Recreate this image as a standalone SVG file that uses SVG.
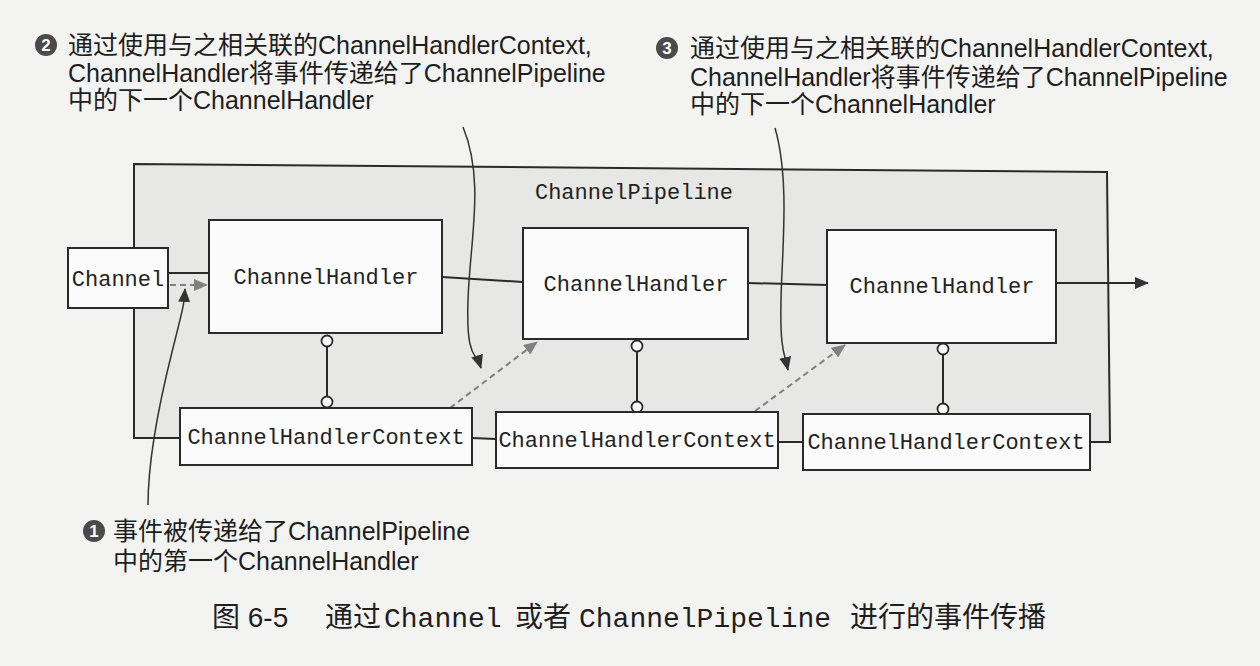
<svg xmlns="http://www.w3.org/2000/svg" width="1260" height="666" viewBox="0 0 1260 666">
<style>
.mono{font-family:"Liberation Mono","Noto Sans CJK SC",monospace;font-size:22px;fill:#222}
.ann{font-family:"Liberation Sans","Noto Sans CJK SC",sans-serif;font-size:25px;fill:#1e1e1e}
.cap{font-family:"Liberation Sans","Noto Sans CJK SC",sans-serif;font-size:28px;fill:#1e1e1e}
.capm{font-family:"Liberation Mono",monospace;font-size:28px;fill:#1e1e1e}
.box{fill:#fbfbfb;stroke:#2a2a2a;stroke-width:2}
.ln{fill:none;stroke:#2a2a2a;stroke-width:2}
.thin{fill:none;stroke:#333;stroke-width:1.5}
.dash{fill:none;stroke:#808080;stroke-width:2;stroke-dasharray:6 4}
.num{fill:#4a4a4a}
.numt{font-family:"Liberation Sans",sans-serif;font-size:17px;font-weight:bold;fill:#fff}
.pin{fill:#fbfbfb;stroke:#2a2a2a;stroke-width:1.8}
</style>
<defs>
<marker id="ah" markerUnits="userSpaceOnUse" markerWidth="14" markerHeight="12" refX="13" refY="6" orient="auto"><path d="M0,0 L14,6 L0,12 z" fill="#333"/></marker>
<marker id="ahg" markerUnits="userSpaceOnUse" markerWidth="14" markerHeight="12" refX="13" refY="6" orient="auto"><path d="M0,0 L14,6 L0,12 z" fill="#808080"/></marker>
</defs>
<rect width="1260" height="666" fill="#f3f3f1"/>

<g id="pipeline">
<polygon points="134,164 1107,172 1110,442 134,438" fill="#e7e7e5"/>
<path class="ln" d="M180,438 L134,438 L134,164 L1107,172 L1110,442 L1090,442"/>
<text class="mono" x="634" y="199" text-anchor="middle">ChannelPipeline</text>
</g>

<g id="connectors">
<line class="ln" x1="168" y1="273" x2="209" y2="273"/>
<line class="dash" x1="170" y1="285" x2="207" y2="285" marker-end="url(#ahg)"/>
<line class="ln" x1="442" y1="277" x2="523" y2="282"/>
<line class="ln" x1="748" y1="283" x2="827" y2="285"/>
<line class="ln" x1="1056" y1="283" x2="1148" y2="283" marker-end="url(#ah)"/>
<line class="ln" x1="472" y1="438" x2="496" y2="439"/>
<line class="ln" x1="778" y1="442" x2="803" y2="442"/>
<line class="ln" x1="327" y1="347" x2="327" y2="396"/>
<line class="ln" x1="637" y1="352" x2="637" y2="402"/>
<line class="ln" x1="943" y1="354" x2="943" y2="404"/>
<circle class="pin" cx="327" cy="341" r="5.5"/>
<circle class="pin" cx="327" cy="402" r="5.5"/>
<circle class="pin" cx="637" cy="346" r="5.5"/>
<circle class="pin" cx="637" cy="407" r="5.5"/>
<circle class="pin" cx="943" cy="349" r="5.5"/>
<circle class="pin" cx="943" cy="409" r="5.5"/>
<line class="dash" x1="450" y1="408" x2="537" y2="342" marker-end="url(#ahg)"/>
<line class="dash" x1="755" y1="411" x2="845" y2="345" marker-end="url(#ahg)"/>
<path class="thin" d="M463,127 C485,180 470,240 468,300 S476,352 481,368" marker-end="url(#ah)"/>
<path class="thin" d="M775,128 C790,180 782,250 781,300 S784,352 788,370" marker-end="url(#ah)"/>
<path class="thin" d="M148,505 C148,460 160,400 172,352 S184,305 185,289" marker-end="url(#ah)"/>
</g>

<g id="channel">
<rect class="box" x="68" y="248" width="100" height="60"/>
<text class="mono" x="118" y="286" text-anchor="middle">Channel</text>
</g>
<g id="handler1">
<rect class="box" x="209" y="220" width="233" height="113"/>
<text class="mono" x="326" y="284" text-anchor="middle">ChannelHandler</text>
</g>
<g id="handler2">
<rect class="box" x="523" y="228" width="225" height="111"/>
<text class="mono" x="636" y="291" text-anchor="middle">ChannelHandler</text>
</g>
<g id="handler3">
<rect class="box" x="827" y="230" width="229" height="113"/>
<text class="mono" x="942" y="293" text-anchor="middle">ChannelHandler</text>
</g>
<g id="context1">
<rect class="box" x="180" y="408" width="292" height="57"/>
<text class="mono" x="326" y="444" text-anchor="middle">ChannelHandlerContext</text>
</g>
<g id="context2">
<rect class="box" x="496" y="412" width="282" height="56"/>
<text class="mono" x="637" y="447" text-anchor="middle">ChannelHandlerContext</text>
</g>
<g id="context3">
<rect class="box" x="803" y="414" width="287" height="56"/>
<text class="mono" x="946" y="449" text-anchor="middle">ChannelHandlerContext</text>
</g>

<g id="note2">
<circle class="num" cx="46" cy="45" r="11"/>
<text class="numt" x="46" y="51" text-anchor="middle">2</text>
<text class="ann" x="68" y="54">通过使用与之相关联的ChannelHandlerContext,</text>
<text class="ann" x="68" y="82">ChannelHandler将事件传递给了ChannelPipeline</text>
<text class="ann" x="68" y="109">中的下一个ChannelHandler</text>
</g>
<g id="note3">
<circle class="num" cx="667" cy="48" r="11"/>
<text class="numt" x="667" y="54" text-anchor="middle">3</text>
<text class="ann" x="690" y="57">通过使用与之相关联的ChannelHandlerContext,</text>
<text class="ann" x="690" y="86">ChannelHandler将事件传递给了ChannelPipeline</text>
<text class="ann" x="690" y="113">中的下一个ChannelHandler</text>
</g>
<g id="note1">
<circle class="num" cx="94" cy="531" r="11"/>
<text class="numt" x="94" y="537" text-anchor="middle">1</text>
<text class="ann" x="113" y="540">事件被传递给了ChannelPipeline</text>
<text class="ann" x="113" y="570">中的第一个ChannelHandler</text>
</g>
<g id="caption">
<text class="cap" x="212" y="627">图 6-5</text>
<text class="cap" x="325" y="627">通过</text>
<text class="capm" x="384" y="627">Channel</text>
<text class="cap" x="515" y="627">或者</text>
<text class="capm" x="579" y="627">ChannelPipeline</text>
<text class="cap" x="850" y="627">进行的事件传播</text>
</g>
</svg>
